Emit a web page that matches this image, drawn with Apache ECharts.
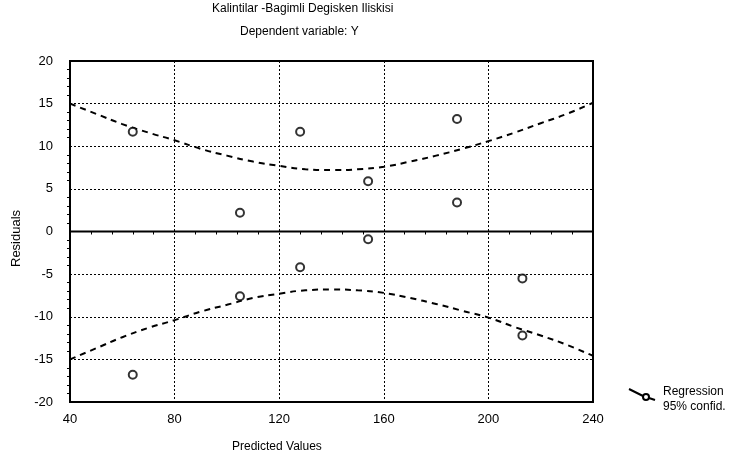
<!DOCTYPE html>
<html><head><meta charset="utf-8">
<script src="https://cdn.jsdelivr.net/npm/echarts@6/dist/echarts.min.js"></script>
<style>html,body{margin:0;padding:0;background:#fff}#c{width:737px;height:462px}</style>
</head><body><div id="c"></div>
<script>
const titleText = "Kalintilar -Bagimli Degisken Iliskisi";
const subtitleText = "Dependent variable: Y";
const xName = "Predicted Values";
const yName = "Residuals";
const predicted = [64, 105, 128, 154, 188, 188, 154, 128, 105, 64, 213, 213];
const residuals = [11.7, 2.2, 11.7, 5.9, 13.2, 3.4, -0.9, -4.2, -7.6, -16.8, -5.5, -12.2];
const curveX = [40,50,60,70,80,90,100,110,120,130,140,150,160,170,180,190,200,210,220,230,240];
const upper = [15.0,13.8,12.6,11.6,10.7,9.7,8.9,8.2,7.7,7.3,7.2,7.3,7.6,8.2,8.9,9.7,10.6,11.6,12.7,13.8,15.1];
const lower = [-15.0,-13.7,-12.4,-11.3,-10.4,-9.4,-8.6,-7.8,-7.3,-6.9,-6.8,-6.9,-7.2,-7.8,-8.5,-9.3,-10.1,-11.2,-12.2,-13.3,-14.6];
const legendLabels = ["Regression", "95% confid."];

const chart = echarts.init(document.getElementById('c'), null, {renderer:'canvas'});
const font = "Liberation Sans, Arial, sans-serif";
const dotted = {show:true, lineStyle:{color:'#000', type:[2,2], width:1}};
chart.setOption({
  animation:false,
  backgroundColor:'#fff',
  grid:{left:70, right:144, top:61, bottom:60, show:true, borderColor:'#000', borderWidth:2, backgroundColor:'transparent'},
  xAxis:{type:'value', min:40, max:240, interval:40,
    axisLine:{show:false}, axisTick:{show:false},
    minorTick:{show:true, splitNumber:5, length:3, lineStyle:{color:'#000'}},
    splitLine:dotted,
    axisLabel:{color:'#000', fontFamily:font, fontSize:13, margin:11}},
  yAxis:{type:'value', min:-20, max:20, interval:5,
    axisLine:{show:false}, axisTick:{show:false},
    minorTick:{show:true, splitNumber:5, length:3, lineStyle:{color:'#000'}},
    splitLine:dotted,
    axisLabel:{color:'#000', fontFamily:font, fontSize:13, margin:17}},
  graphic:[
    {type:'text', left:212, top:3, style:{text:titleText, font:'12px '+font, fill:'#000'}},
    {type:'text', left:240, top:26, style:{text:subtitleText, font:'12px '+font, fill:'#000'}},
    {type:'text', left:232, top:441, style:{text:xName, font:'12px '+font, fill:'#000'}},
    {type:'text', x:10, y:267, rotation:Math.PI/2, style:{text:yName, font:'13px '+font, fill:'#000'}},
    {type:'line', shape:{x1:629, y1:389, x2:643, y2:396}, style:{stroke:'#000', lineWidth:2}},
    {type:'circle', shape:{cx:646, cy:397, r:3}, style:{stroke:'#000', fill:'#fff', lineWidth:2}},
    {type:'line', shape:{x1:649, y1:398, x2:655, y2:400}, style:{stroke:'#000', lineWidth:2}},
    {type:'text', left:663, top:386, style:{text:legendLabels[0], font:'12px '+font, fill:'#000'}},
    {type:'text', left:663, top:401, style:{text:legendLabels[1], font:'12px '+font, fill:'#000'}}
  ],
  series:[
    {type:'line', data:[[40,0],[240,0]], symbol:'none', lineStyle:{color:'#000', width:2}, silent:true},
    {type:'line', data:curveX.map((x,i)=>[x,upper[i]]), smooth:true, symbol:'none', lineStyle:{color:'#000', width:2, type:[6,5]}},
    {type:'line', data:curveX.map((x,i)=>[x,lower[i]]), smooth:true, symbol:'none', lineStyle:{color:'#000', width:2, type:[6,5]}},
    {type:'scatter', data:predicted.map((x,i)=>[x,residuals[i]]), symbol:'circle', symbolSize:8, itemStyle:{color:'#fff', borderColor:'#000', borderWidth:2}, z:5}
  ]
});
</script></body></html>
